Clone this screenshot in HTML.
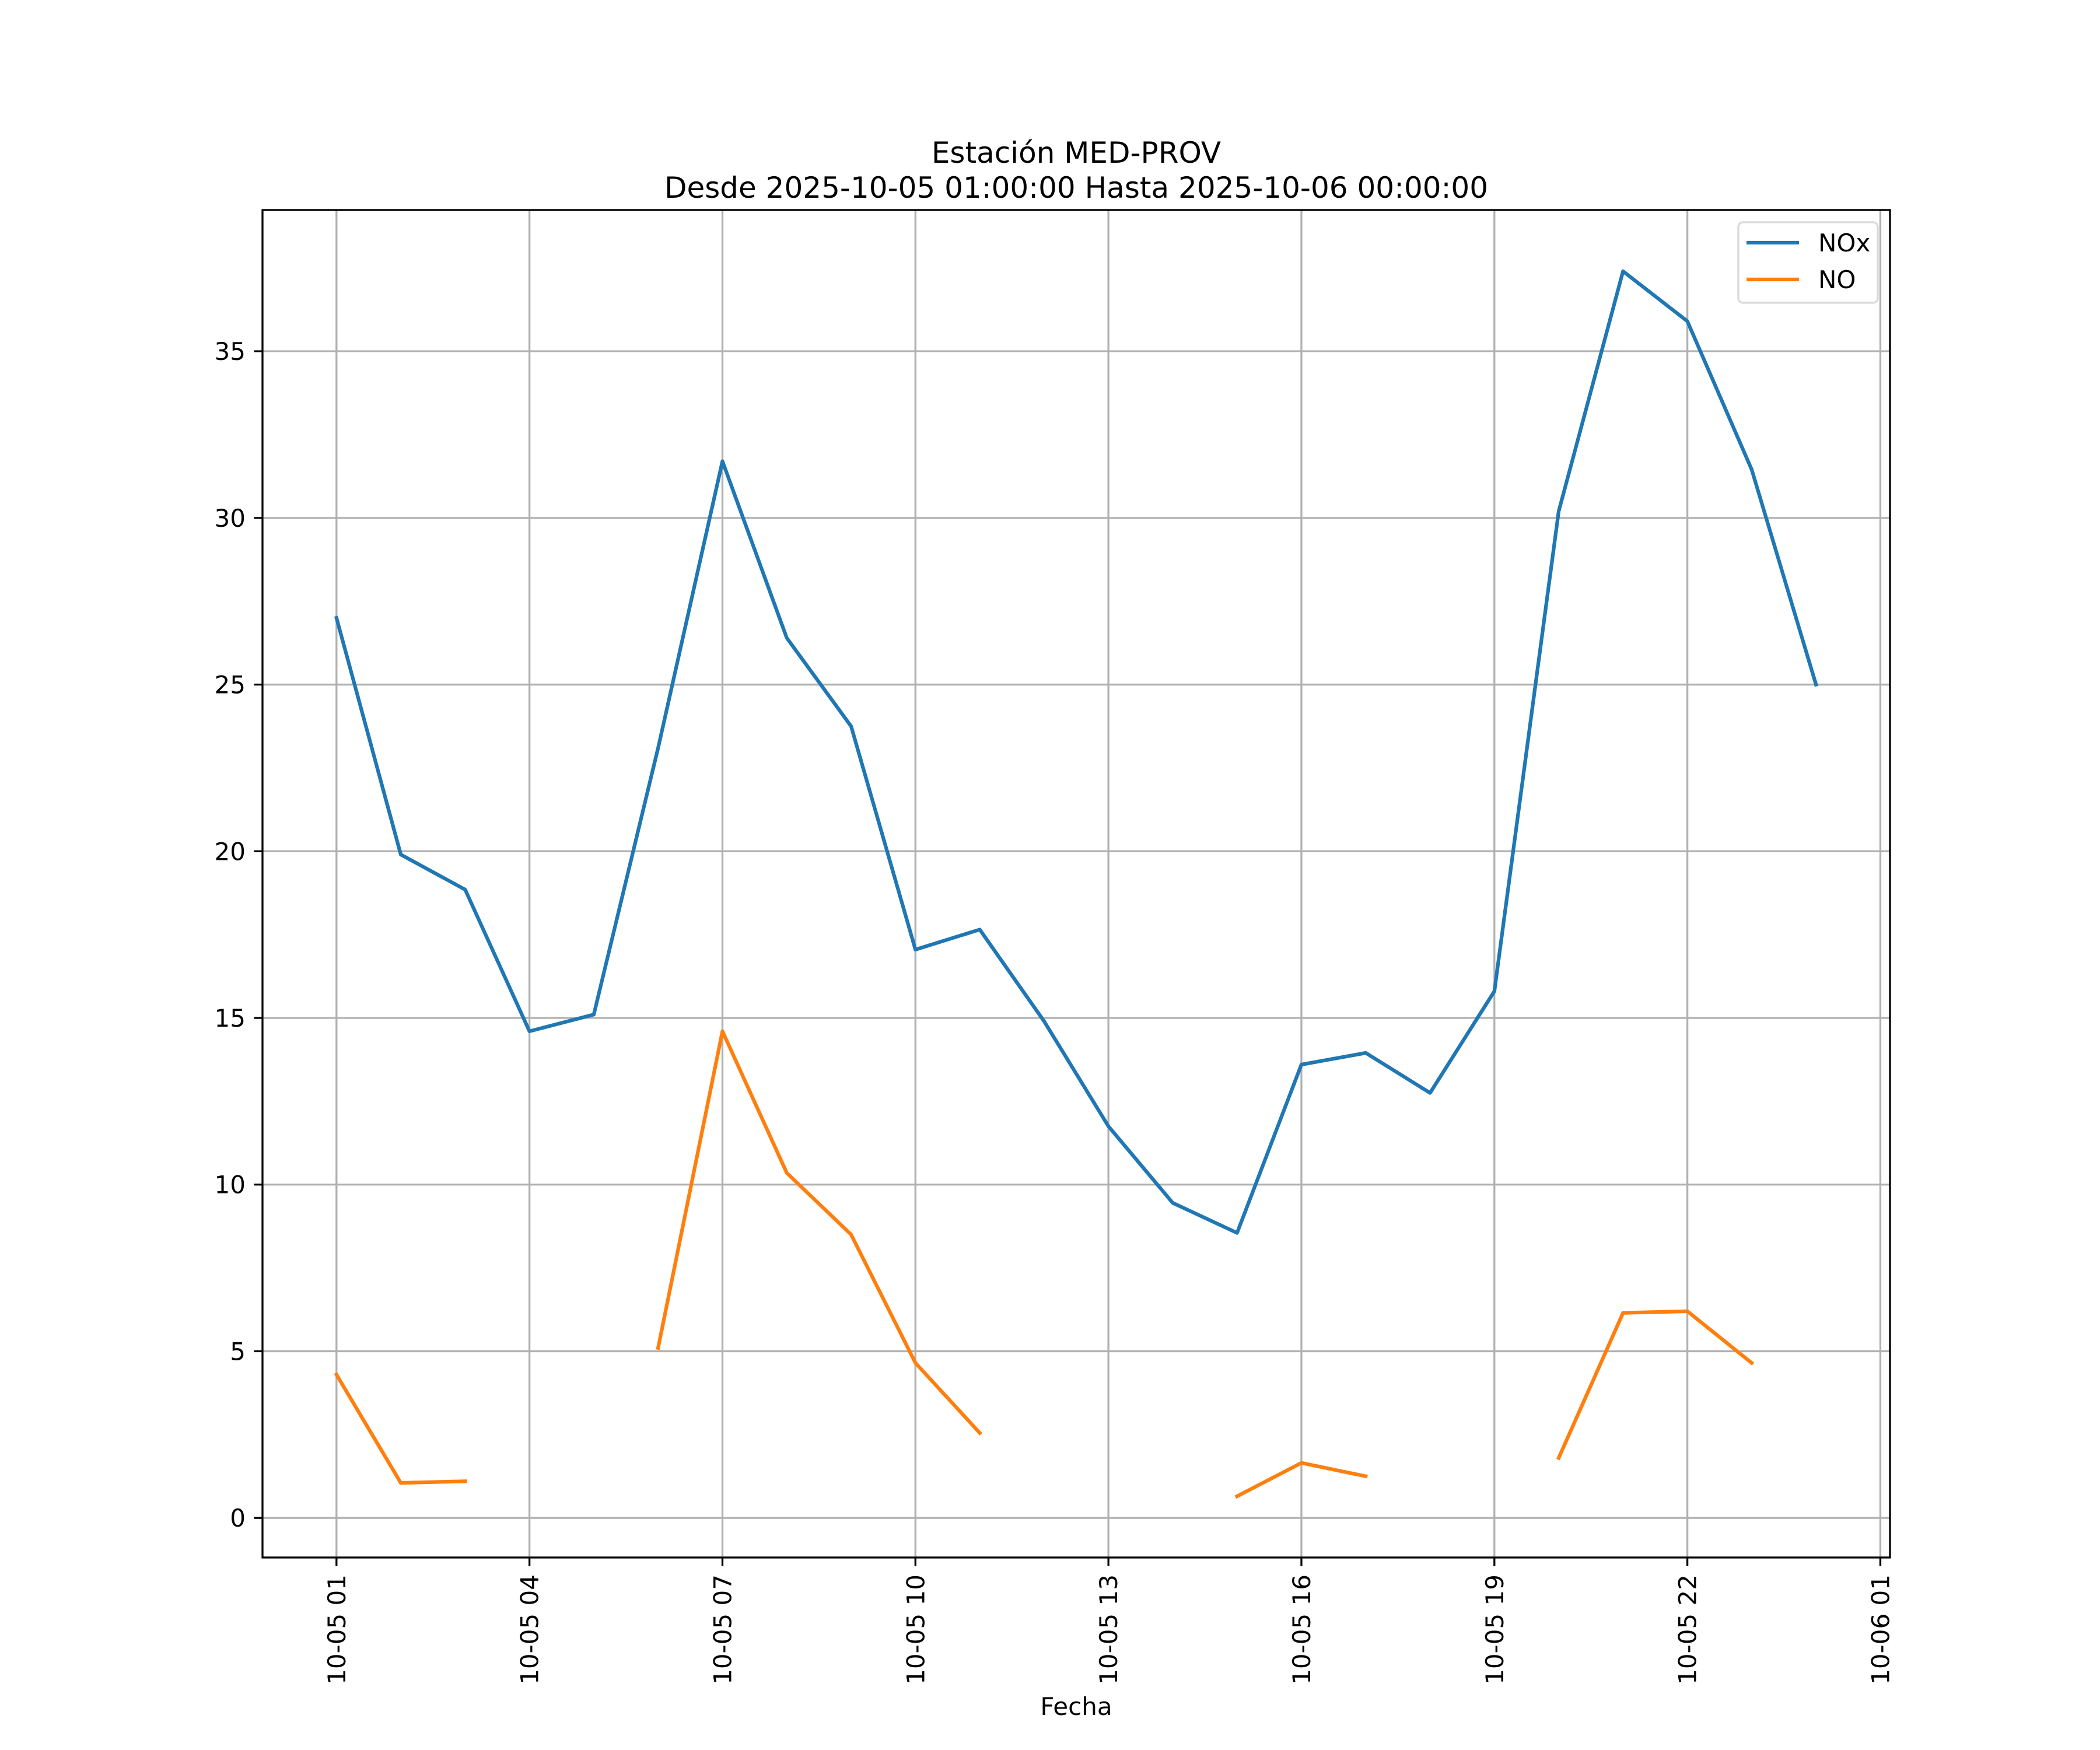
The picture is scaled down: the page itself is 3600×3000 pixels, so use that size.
<!DOCTYPE html>
<html><head><meta charset="utf-8"><style>
html,body{margin:0;padding:0;background:#fff}
svg{display:block;font-family:"DejaVu Sans","Liberation Sans",sans-serif}
</style></head><body>
<svg id="chart" width="3600" height="3000" viewBox="0 0 3600 3000">
<text x="1845" y="279" font-size="50" text-anchor="middle">Estación MED-PROV</text>
<text x="1845" y="339" font-size="50" text-anchor="middle">Desde 2025-10-05 01:00:00 Hasta 2025-10-06 00:00:00</text>
<g id="grid"></g><g id="series"></g><g id="axes"></g>
<text x="1845" y="2940" font-size="42" text-anchor="middle">Fecha</text>
<g>
<rect x="2980" y="381" width="239" height="138" rx="8" fill="#fff" fill-opacity="0.8" stroke="#d9d9d9" stroke-width="3.3"/>
<line x1="2994" y1="416" x2="3084" y2="416" stroke="#1f77b4" stroke-width="6.25"/>
<text x="3117" y="431" font-size="42">NOx</text>
<line x1="2994" y1="479" x2="3084" y2="479" stroke="#ff7f0e" stroke-width="6.25"/>
<text x="3117" y="494" font-size="42">NO</text>
</g>
</svg>
<script>
const hours = [1,2,3,4,5,6,7,8,9,10,11,12,13,14,15,16,17,18,19,20,21,22,23,24];
const noxValues = [27.0,19.9,18.85,14.6,15.1,23.1,31.7,26.4,23.75,17.05,17.65,14.9,11.75,9.45,8.55,13.6,13.95,12.75,15.8,30.2,37.4,35.9,31.45,25.0];
const noValues = [4.3,1.05,1.1,null,null,5.1,14.6,10.35,8.5,4.65,2.55,null,null,null,0.65,1.65,1.25,null,null,1.8,6.15,6.2,4.65,null];
const xTickHours = [1,4,7,10,13,16,19,22,25];
const xTickLabels = ["10-05 01","10-05 04","10-05 07","10-05 10","10-05 13","10-05 16","10-05 19","10-05 22","10-06 01"];
const yTicks = [0,5,10,15,20,25,30,35];

const L=450,R=3240,T=360,B=2670;
const all=noxValues.concat(noValues).filter(v=>v!==null);
const dmin=Math.min(...all),dmax=Math.max(...all);
const ymin=dmin-(dmax-dmin)*0.05,ymax=dmax+(dmax-dmin)*0.05;
const hmin=Math.min(...hours),hmax=Math.max(...hours);
const xmin=hmin-(hmax-hmin)*0.05,xmax=hmax+(hmax-hmin)*0.05;
const X=h=>L+(h-xmin)/(xmax-xmin)*(R-L);
const Y=v=>B-(v-ymin)/(ymax-ymin)*(B-T);
const NS="http://www.w3.org/2000/svg";
function mk(tag,attrs,parent){const e=document.createElementNS(NS,tag);for(const k in attrs)e.setAttribute(k,attrs[k]);parent.appendChild(e);return e;}
const grid=document.getElementById('grid'),axes=document.getElementById('axes'),series=document.getElementById('series');
xTickHours.forEach((h,i)=>{
  const x=X(h);
  const g=mk('line',{x1:x,y1:T,x2:x,y2:B,stroke:'#b0b0b0','stroke-width':3.3},grid);
  
  
  const t=mk('line',{x1:x,y1:B,x2:x,y2:B+14.6,stroke:'#000','stroke-width':3.3},axes);
  
  
  const tx=mk('text',{x:0,y:0,'font-size':42,'text-anchor':'end',transform:`translate(${x+15},${B+29}) rotate(-90)`},axes);
  tx.textContent=xTickLabels[i];
  
  
});
yTicks.forEach(v=>{
  const y=Y(v);
  const g=mk('line',{x1:L,y1:y,x2:R,y2:y,stroke:'#b0b0b0','stroke-width':3.3},grid);
  
  
  const t=mk('line',{x1:L-14.6,y1:y,x2:L,y2:y,stroke:'#000','stroke-width':3.3},axes);
  
  
  const tx=mk('text',{x:L-29,y:y+15,'font-size':42,'text-anchor':'end'},axes);
  tx.textContent=v;
  
  
});
const frame=mk('rect',{x:L,y:T,width:R-L,height:B-T,fill:'none',stroke:'#000','stroke-width':3.3},axes);


function draw(vals,color,name){
  let segs=[],cur=[];
  vals.forEach((v,i)=>{if(v===null){if(cur.length)segs.push(cur);cur=[];}else cur.push([X(hours[i]),Y(v)]);});
  if(cur.length)segs.push(cur);
  segs.forEach(s=>{
    if(s.length<2)return;
    const p=mk('polyline',{points:s.map(q=>q.join(',')).join(' '),fill:'none',stroke:color,'stroke-width':6.25,'stroke-linejoin':'round','stroke-linecap':'square'},series);
    
    
  });
}
draw(noxValues,'#1f77b4','nox-line');
draw(noValues,'#ff7f0e','no-line');
</script>
</body></html>
